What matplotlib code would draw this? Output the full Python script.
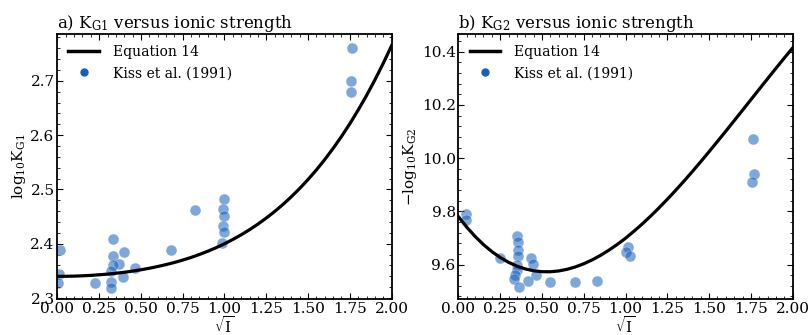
import numpy as np
import matplotlib.pyplot as plt
from matplotlib.lines import Line2D
from matplotlib.ticker import AutoMinorLocator

plt.rcParams['font.family'] = 'DejaVu Serif'
plt.rcParams['mathtext.fontset'] = 'dejavuserif'

# Equation 14 curve at sqrt(I) = 0, 0.05, ..., 2.0
curve_x = [0.0, 0.05, 0.1, 0.15, 0.2, 0.25, 0.3, 0.35, 0.4, 0.45, 0.5,
           0.55, 0.6, 0.65, 0.7, 0.75, 0.8, 0.85, 0.9, 0.95, 1.0,
           1.05, 1.1, 1.15, 1.2, 1.25, 1.3, 1.35, 1.4, 1.45, 1.5,
           1.55, 1.6, 1.65, 1.7, 1.75, 1.8, 1.85, 1.9, 1.95, 2.0]
curve_g1 = [2.3400, 2.3401, 2.3404, 2.3410, 2.3418, 2.3429, 2.3441, 2.3457,
            2.3475, 2.3497, 2.3521, 2.3549, 2.3581, 2.3616, 2.3655, 2.3700,
            2.3748, 2.3803, 2.3862, 2.3928, 2.4000, 2.4079, 2.4165, 2.4259,
            2.4362, 2.4473, 2.4594, 2.4724, 2.4866, 2.5018, 2.5183, 2.5360,
            2.5551, 2.5756, 2.5975, 2.6210, 2.6462, 2.6730, 2.7017, 2.7323,
            2.7648]
curve_g2 = [9.7800, 9.7405, 9.7056, 9.6750, 9.6487, 9.6266, 9.6084, 9.5942,
            9.5836, 9.5767, 9.5732, 9.5730, 9.5760, 9.5821, 9.5912, 9.6030,
            9.6175, 9.6345, 9.6539, 9.6755, 9.6990, 9.7251, 9.7527, 9.7820,
            9.8130, 9.8454, 9.8791, 9.9139, 9.9498, 9.9867, 10.0244, 10.0627,
            10.1015, 10.1407, 10.1801, 10.2196, 10.2592, 10.2985, 10.3377,
            10.3763, 10.4144]

# Kiss et al. (1991)
kiss_x1 = [1.766, 1.76, 1.76, 0.822, 1.0, 0.99, 1.0, 0.99, 1.0, 0.986, 0.682,
           0.33, 0.016, 0.33, 0.396, 0.37, 0.33, 0.32, 0.466, 0.39, 0.32,
           0.32, 0.226, 0.008, 0.006]
kiss_g1 = [2.761, 2.699, 2.679, 2.463, 2.483, 2.464, 2.452, 2.433, 2.422,
           2.402, 2.388, 2.409, 2.389, 2.378, 2.384, 2.363, 2.361, 2.350,
           2.355, 2.339, 2.330, 2.319, 2.327, 2.345, 2.328]

kiss_x2 = [1.765, 1.769, 1.757, 0.044, 0.048, 0.35, 0.356, 0.358, 0.358,
           0.247, 0.432, 0.448, 0.352, 0.352, 0.338, 0.332, 0.462, 0.416,
           0.36, 0.549, 0.699, 0.832, 1.015, 1.005, 1.027]
kiss_g2 = [10.071, 9.94, 9.909, 9.79, 9.769, 9.709, 9.683, 9.656, 9.634,
           9.625, 9.625, 9.601, 9.600, 9.581, 9.560, 9.544, 9.560, 9.539,
           9.514, 9.533, 9.535, 9.538, 9.666, 9.648, 9.631]

dot_color = '#1560bd'

fig, axes = plt.subplots(1, 2, figsize=(8.08, 3.35), dpi=100)
fig.subplots_adjust(left=0.071, right=0.981, bottom=0.107, top=0.898, wspace=0.2)

panels = [
    (axes[0], curve_g1, kiss_x1, kiss_g1, r'a) $\mathrm{K_{G1}}$ versus ionic strength',
     r'$\mathrm{log_{10}K_{G1}}$', (2.298, 2.786)),
    (axes[1], curve_g2, kiss_x2, kiss_g2, r'b) $\mathrm{K_{G2}}$ versus ionic strength',
     r'$\mathrm{-log_{10}K_{G2}}$', (9.47, 10.466)),
]

for ax, cy, kx, ky, title, ylabel, ylim in panels:
    ax.plot(curve_x, cy, color='black', lw=2.3, zorder=3)
    ax.scatter(kx, ky, s=62, color=dot_color, alpha=0.55, edgecolors='white',
               linewidths=0.4, zorder=2)
    ax.set_xlim(0, 2)
    ax.set_ylim(*ylim)
    ax.set_xticks(np.arange(0, 2.01, 0.25))
    ax.xaxis.set_minor_locator(AutoMinorLocator(5))
    ax.yaxis.set_minor_locator(AutoMinorLocator(5))
    ax.tick_params(which='both', direction='in', top=True, right=True,
                   labelsize=11, pad=2)
    ax.tick_params(which='major', length=4)
    ax.tick_params(which='minor', length=2)
    ax.set_title(title, loc='left', fontsize=12, pad=4)
    ax.set_ylabel(ylabel, fontsize=11, labelpad=2)
    ax.set_xlabel(r'$\sqrt{\mathrm{I}}$', fontsize=11, labelpad=-1)
    for sp in ax.spines.values():
        sp.set_linewidth(1.3)
    handles = [Line2D([], [], color='black', lw=2.5),
               Line2D([], [], ls='none', marker='o', ms=5, color=dot_color)]
    ax.legend(handles, ['Equation 14', 'Kiss et al. (1991)'], loc='upper left',
              frameon=False, fontsize=10, handlelength=2.2, borderaxespad=0.4,
              handletextpad=1.0)

axes[0].set_yticks([2.3, 2.4, 2.5, 2.6, 2.7])
axes[1].set_yticks([9.6, 9.8, 10.0, 10.2, 10.4])

fig.savefig('out.png')
